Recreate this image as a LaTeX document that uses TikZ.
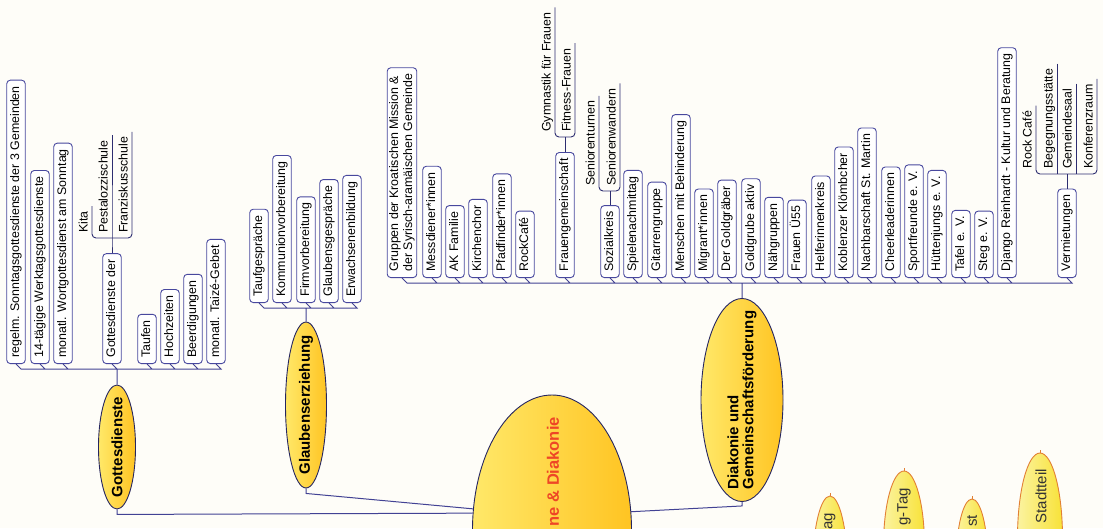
\documentclass[tikz,border=0pt]{standalone}
\usepackage{fontspec}
\setmainfont{Liberation Sans}
\usetikzlibrary{shapes.geometric, positioning}

\definecolor{paper}{RGB}{254,253,248}
\definecolor{boxline}{RGB}{72,72,158}
\definecolor{branchline}{RGB}{66,66,148}
\definecolor{subline}{RGB}{45,45,112}
\definecolor{ovalline}{RGB}{38,38,96}
\definecolor{goldlight}{RGB}{255,232,105}
\definecolor{golddark}{RGB}{255,196,34}
\definecolor{rootred}{RGB}{238,70,38}
\definecolor{topicline}{RGB}{226,128,52}
\definecolor{topiclight}{RGB}{251,243,160}
\definecolor{topicfill}{RGB}{248,226,56}

\begin{document}
\begin{tikzpicture}[x=1pt, y=-1pt,
  leafbox/.style={draw=boxline, line width=0.9pt, fill=white, rounded corners=3.5pt, rotate=90, anchor=west,
    minimum height=18.5pt, inner xsep=6pt, inner ysep=2pt, font=\fontsize{12.4}{14}\selectfont},
  leaf/.style={leafbox, text height=9pt, text depth=2.6pt},
  leafpair/.style={leafbox, align=left},
  subleaf/.style={rotate=90, anchor=south west, inner xsep=5pt, inner ysep=1.5pt,
    text height=9pt, text depth=2.6pt, font=\fontsize{12.4}{14}\selectfont},
  mainoval/.style={ellipse, draw=ovalline, line width=0.9pt, left color=goldlight, right color=golddark,
    rotate=90, inner xsep=-25pt, inner ysep=0pt, align=left, font=\bfseries\fontsize{15}{15}\selectfont},
  rootlabel/.style={rotate=90, anchor=east, inner sep=0pt, text=rootred, font=\bfseries\fontsize{16.5}{18}\selectfont},
  topic/.style={ellipse, draw=topicline, line width=0.9pt, left color=topiclight, right color=topicfill,
    rotate=90, inner sep=0pt},
  topiclabel/.style={rotate=90, anchor=east, inner sep=0pt, text=black!80, font=\fontsize{15}{17}\selectfont},
  branch/.style={draw=branchline, line width=1pt},
  subbranch/.style={draw=subline, line width=0.9pt, rounded corners=4pt}]

\path[use as bounding box, fill=paper] (0,0) rectangle (1103,528);
\clip (0,0) rectangle (1103,528);

% centre and main branches
\node (root) at (552,530) [mainoval, minimum width=270pt, minimum height=159pt] {};
\node (rootlbl) at (553,417) [rootlabel] {ne \& Diakonie};
\node (gd) at (117,447) [mainoval, minimum width=124pt, minimum height=37pt] {Gottesdienste};
\node (ge) at (306,405) [mainoval, minimum width=166pt, minimum height=41pt] {Glaubenserziehung};
\node (dk) at (742,400) [mainoval, minimum width=203pt, minimum height=82pt] {Diakonie und\\Gemeinschaftsförderung};

% topics at the lower edge
\node (z1) at (830,571) [topic, minimum width=150pt, minimum height=35pt] {};
\node (z2) at (904,546) [topic, minimum width=150pt, minimum height=41pt] {};
\node (z3) at (972,564) [topic, minimum width=130pt, minimum height=32pt] {};
\node (z4) at (1040,538) [topic, minimum width=170pt, minimum height=45pt] {};
\node (z1lbl) at (830,513) [topiclabel] {ag};
\node (z2lbl) at (904,488) [topiclabel] {g-Tag};
\node (z3lbl) at (972,515) [topiclabel] {st};
\node (z4lbl) at (1041,469) [topiclabel] {Stadtteil};

% Gottesdienste
\node (gd1) at (16,364) [leaf] {regelm. Sonntagsgottesdienste der 3 Gemeinden};
\node (gd2) at (40,364) [leaf] {14-tägige Werktagsgottesdienste};
\node (gd3) at (63,364) [leaf] {monatl. Wortgottesdienst am Sonntag};
\node (gd4) at (112,364) [leaf] {Gottesdienste der};
\node (gd5) at (147,364) [leaf] {Taufen};
\node (gd6) at (170,364) [leaf] {Hochzeiten};
\node (gd7) at (193,364) [leaf] {Beerdigungen};
\node (gd8) at (216,364) [leaf] {monatl. Taizé-Gebet};
\coordinate (gdsub) at (112,238);
\node (kita) at (92,238) [subleaf] {Kita};
\node (pz) at (112,238) [subleaf] {Pestalozzischule};
\node (fz) at (132,238) [subleaf] {Franziskusschule};

% Glaubenserziehung
\node (ge1) at (259,303) [leaf] {Taufgespräche};
\node (ge2) at (282,303) [leaf] {Kommunionvorbereitung};
\node (ge3) at (306,303) [leaf] {Firmvorbereitung};
\node (ge4) at (329,303) [leaf] {Glaubensgespräche};
\node (ge5) at (352,303) [leaf] {Erwachsenenbildung};

% Diakonie und Gemeinschaftsfoerderung
\node (dk1) at (402,278) [leafpair] {Gruppen der Kroatischen Mission \&\\der Syrisch-aramäischen Gemeinde};
\node (dk2) at (432,278) [leaf] {Messdiener*innen};
\node (dk3) at (455,278) [leaf] {AK Familie};
\node (dk4) at (478,278) [leaf] {Kirchenchor};
\node (dk5) at (502,278) [leaf] {Pfadfinder*innen};
\node (dk6) at (525,278) [leaf] {RockCafé};
\node (dk7) at (565,278) [leaf] {Frauengemeinschaft};
\node (dk8) at (610,278) [leaf] {Sozialkreis};
\node (dk9) at (633,278) [leaf] {Spielenachmittag};
\node (dk10) at (657,278) [leaf] {Gitarrengruppe};
\node (dk11) at (681,278) [leaf] {Menschen mit Behinderung};
\node (dk12) at (704,278) [leaf] {Migrant*innen};
\node (dk13) at (727,278) [leaf] {Der Goldgräber};
\node (dk14) at (751,278) [leaf] {Goldgrube aktiv};
\node (dk15) at (774,278) [leaf] {Nähgruppen};
\node (dk16) at (797,278) [leaf] {Frauen Ü55};
\node (dk17) at (821,278) [leaf] {Helferinnenkreis};
\node (dk18) at (844,278) [leaf] {Koblenzer Klömbcher};
\node (dk19) at (867,278) [leaf] {Nachbarschaft St. Martin};
\node (dk20) at (891,278) [leaf] {Cheerleaderinnen};
\node (dk21) at (914,278) [leaf] {Sportfreunde e. V.};
\node (dk22) at (937,278) [leaf] {Hüttenjungs e. V.};
\node (dk23) at (961,278) [leaf] {Tafel e. V.};
\node (dk24) at (984,278) [leaf] {Steg e. V.};
\node (dk25) at (1007,278) [leaf] {Django Reinhardt - Kultur und Beratung};
\node (dk26) at (1067,278) [leaf] {Vermietungen};
\coordinate (fgsub) at (565,137);
\node (gy) at (555,137) [subleaf] {Gymnastik für Frauen};
\node (ff) at (575,137) [subleaf] {Fitness-Frauen};
\coordinate (sksub) at (610,191);
\node (st) at (599,191) [subleaf] {Seniorenturnen};
\node (sw) at (620,191) [subleaf] {Seniorenwandern};
\coordinate (vmsub) at (1067,174);
\node (rc) at (1036,174) [subleaf] {Rock Café};
\node (bg) at (1057,174) [subleaf] {Begegnungsstätte};
\node (gs) at (1076,174) [subleaf] {Gemeindesaal};
\node (kr) at (1097,174) [subleaf] {Konferenzraum};

% connectors
\draw[branch] (gd.west) -- ++(0,5) -- (root.78);
\draw[branch] (ge.west) -- ++(0,5) -- (root.75);
\draw[branch] (dk.west) -- ++(0,4) -- (root.-77);
\draw[branch] (gd1.west) -- ++(5,5) -| (gd.east)
  (gd2.west) -- ++(5,5) -| (gd.east)
  (gd3.west) -- ++(5,5) -| (gd.east)
  (gd4.west) -- ++(5,5) -| (gd.east)
  (gd5.west) -- ++(5,5) -| (gd.east)
  (gd6.west) -- ++(5,5) -| (gd.east)
  (gd7.west) -- ++(5,5) -| (gd.east)
  (gd8.west) -- ++(5,5) -| (gd.east);
\draw[branch] (ge1.west) -- ++(5,5) -| (ge.east)
  (ge2.west) -- ++(5,5) -| (ge.east)
  (ge3.west) -- ++(5,5) -| (ge.east)
  (ge4.west) -- ++(5,5) -| (ge.east)
  (ge5.west) -- ++(5,5) -| (ge.east);
\draw[branch] (dk1.west) -- ++(5,5) -| (dk.east)
  (dk2.west) -- ++(5,5) -| (dk.east)
  (dk3.west) -- ++(5,5) -| (dk.east)
  (dk4.west) -- ++(5,5) -| (dk.east)
  (dk5.west) -- ++(5,5) -| (dk.east)
  (dk6.west) -- ++(5,5) -| (dk.east)
  (dk7.west) -- ++(5,5) -| (dk.east)
  (dk8.west) -- ++(5,5) -| (dk.east)
  (dk9.west) -- ++(5,5) -| (dk.east)
  (dk10.west) -- ++(5,5) -| (dk.east)
  (dk11.west) -- ++(5,5) -| (dk.east)
  (dk12.west) -- ++(5,5) -| (dk.east)
  (dk13.west) -- ++(5,5) -| (dk.east)
  (dk14.west) -- ++(5,5) -| (dk.east)
  (dk15.west) -- ++(5,5) -| (dk.east)
  (dk16.west) -- ++(5,5) -| (dk.east)
  (dk17.west) -- ++(5,5) -| (dk.east)
  (dk18.west) -- ++(5,5) -| (dk.east)
  (dk19.west) -- ++(5,5) -| (dk.east)
  (dk20.west) -- ++(5,5) -| (dk.east)
  (dk21.west) -- ++(5,5) -| (dk.east)
  (dk22.west) -- ++(5,5) -| (dk.east)
  (dk23.west) -- ++(5,5) -| (dk.east)
  (dk24.west) -- ++(5,5) -| (dk.east)
  (dk25.west) -- ++(5,5) -| (dk.east)
  (dk26.west) -- ++(5,5) -| (dk.east);
\draw[subbranch] (kita.south east) |- (gdsub) -| (fz.south east);
\draw[subbranch] (pz.south east) -- (gdsub) -- (gd4.east);
\draw[subbranch] (gy.south east) |- (fgsub) -| (ff.south east);
\draw[subbranch] (fgsub) -- (dk7.east);
\draw[subbranch] (st.south east) |- (sksub) -| (sw.south east);
\draw[subbranch] (sksub) -- (dk8.east);
\draw[subbranch] (rc.south east) |- (vmsub) -| (kr.south east);
\draw[subbranch] (bg.south east) -- (bg.south west);
\draw[subbranch] (gs.south east) -- (gs.south west);
\draw[subbranch] (vmsub) -- (dk26.east);
\draw[topicline, line width=0.9pt] (z1.east) -- ++(0,-3) (z2.east) -- ++(0,-3)
  (z3.east) -- ++(0,-3) (z4.east) -- ++(0,-3);
\end{tikzpicture}
\end{document}
